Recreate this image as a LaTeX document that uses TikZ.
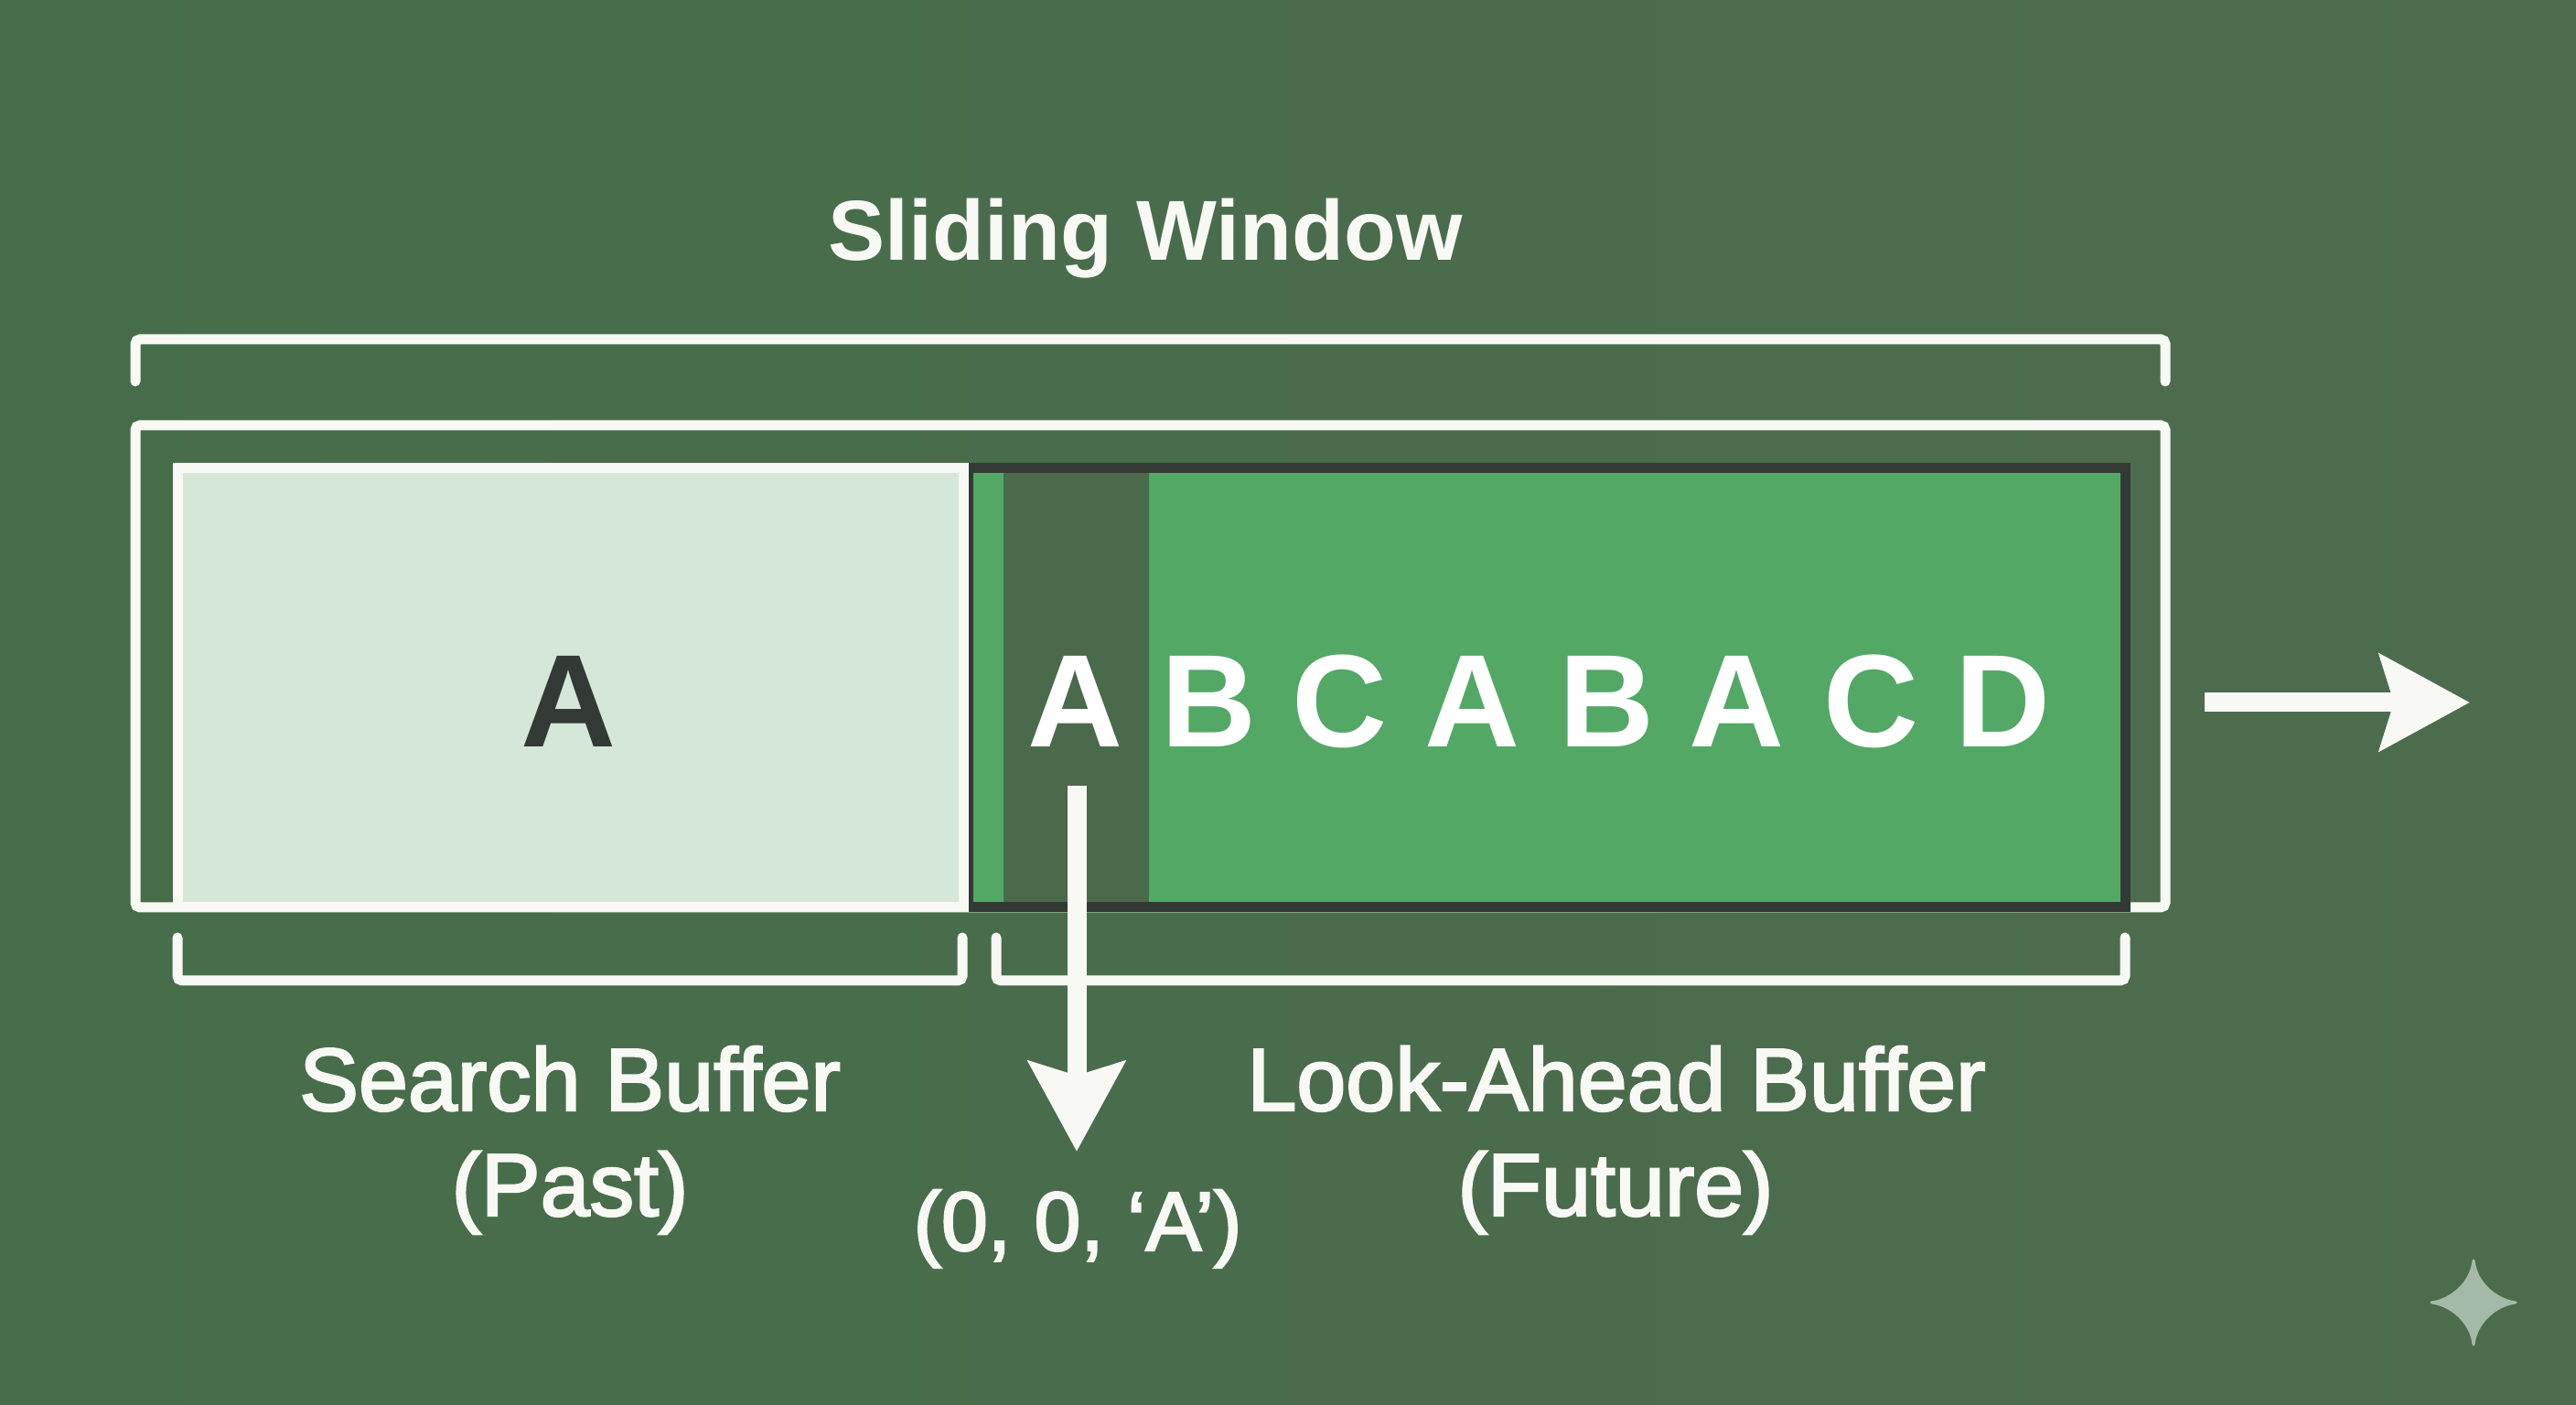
\documentclass[tikz,border=0pt]{standalone}
\usepackage{fontspec}
\setmainfont{Liberation Sans}
\newfontfamily\midfont[FakeBold=2.5]{Liberation Sans}
\usetikzlibrary{arrows.meta}

\definecolor{bgleft}{HTML}{466D4A}
\definecolor{bgright}{HTML}{4D6C4E}
\definecolor{bandgreen}{HTML}{4B6A4B}
\definecolor{lightgreen}{HTML}{D5E8D7}
\definecolor{midgreen}{HTML}{53A866}
\definecolor{darkline}{HTML}{333A36}
\definecolor{offwhite}{HTML}{F8F8F4}
\definecolor{stargreen}{HTML}{A3BBA6}

\tikzset{
bracketline/.style={draw=offwhite, line width=0.11cm, rounded corners=0.05cm, line cap=round},
bigarrow/.style={draw=offwhite, line width=0.21cm, -{Stealth[length=0.98cm,width=1.04cm,inset=0.15cm,fill=offwhite]}},
letterwhite/.style={anchor=base, text=white, font=\fontsize{41}{41}\selectfont\bfseries},
letterdark/.style={anchor=base, text=darkline, font=\fontsize{41}{41}\selectfont\bfseries},
caption/.style={anchor=base, text=offwhite, font=\fontsize{27.6}{27.6}\selectfont\midfont},
tuplelabel/.style={anchor=base, text=offwhite, font=\fontsize{26}{26}\selectfont\midfont},
title/.style={anchor=base, text=offwhite, font=\fontsize{26.5}{26.5}\selectfont\bfseries}
}

\begin{document}
\begin{tikzpicture}
\useasboundingbox (0,0) rectangle (28.16,15.36);
\shade [left color=bgleft, right color=bgright] (0,0) rectangle (28.16,15.36);

% brackets and frame
\draw [bracketline] (1.48,11.19)--(1.48,11.65)--(23.67,11.65)--(23.67,11.19);
\draw [bracketline] (1.48,5.44) rectangle (23.67,10.71);

% look-ahead buffer
\fill [midgreen] (10.585,5.44) rectangle (23.23,10.245);
\fill [bandgreen] (10.97,5.44) rectangle (12.56,10.245);
\draw [darkline, line width=0.11cm] (10.585,5.44) rectangle (23.23,10.245);

% search buffer
\draw [offwhite, fill=lightgreen, line width=0.11cm] (1.94,5.44) rectangle (10.53,10.245);

\draw [bracketline] (1.94,5.11)--(1.94,4.64)--(10.52,4.64)--(10.52,5.11);
\draw [bracketline] (10.89,5.11)--(10.89,4.64)--(23.23,4.64)--(23.23,5.11);

\node [letterdark] (pastA) at (6.22,7.19) {A};
\node [letterwhite] (lookA) at (11.76,7.19) {A};
\node [letterwhite] (lookB) at (13.22,7.19) {B};
\node [letterwhite] (lookC) at (14.65,7.19) {C};
\node [letterwhite] (lookAb) at (16.10,7.19) {A};
\node [letterwhite] (lookBb) at (17.57,7.19) {B};
\node [letterwhite] (lookAc) at (18.99,7.19) {A};
\node [letterwhite] (lookCb) at (20.46,7.19) {C};
\node [letterwhite] (lookD) at (21.90,7.19) {D};

\node [title] (window) at (12.52,12.51) {Sliding Window};
\node [caption] (search) at (6.23,3.22) {Search Buffer};
\node [caption] (past) at (6.23,2.07) {(Past)};
\node [caption] (look) at (17.67,3.22) {Look-Ahead Buffer};
\node [caption] (future) at (17.66,2.07) {(Future)};
\node [tuplelabel] (triple) at (11.78,1.69) {(0, 0, ‘A’)};

% arrows
\coordinate (downstart) at (11.77,6.77);
\coordinate (downend) at (11.77,2.77);
\coordinate (rightstart) at (24.10,7.68);
\coordinate (rightend) at (27.00,7.68);
\draw [bigarrow] (downstart)--(downend);
\draw [bigarrow] (rightstart)--(rightend);

% star
\fill [stargreen, draw=stargreen, line width=0.03cm, line join=round]
(27.04,1.58) .. controls (27.065,1.33) and (27.29,1.145) .. (27.50,1.12)
.. controls (27.29,1.095) and (27.065,0.91) .. (27.04,0.66)
.. controls (27.015,0.91) and (26.79,1.095) .. (26.58,1.12)
.. controls (26.79,1.145) and (27.015,1.33) .. (27.04,1.58) -- cycle;
\end{tikzpicture}
\end{document}
